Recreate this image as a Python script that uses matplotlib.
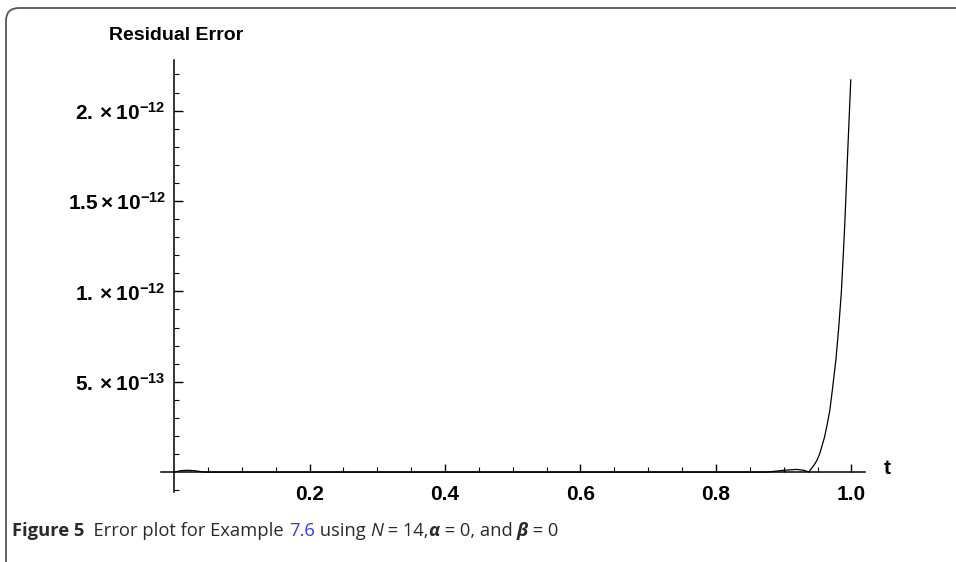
import matplotlib

matplotlib.use("Agg")
import matplotlib.pyplot as plt  # noqa: E402
from matplotlib.patches import FancyBboxPatch  # noqa: E402
from matplotlib.ticker import FixedLocator  # noqa: E402

# values (residual in units of 1e-12)
t_vals = [0.0, 0.01, 0.02, 0.03, 0.045, 0.1, 0.3, 0.5, 0.7, 0.85, 0.875,
          0.9, 0.919, 0.93, 0.937, 0.945, 0.949, 0.953, 0.96, 0.964, 0.968,
          0.972, 0.977, 0.981, 0.985, 0.9875, 0.99, 0.992, 0.994, 0.9965,
          0.999]
err_vals = [0.0, 0.008, 0.01, 0.008, 0.0, 0.0, 0.0, 0.0, 0.0, 0.0, 0.0,
            0.01, 0.015, 0.01, 0.0, 0.04, 0.065, 0.10, 0.19, 0.26, 0.34,
            0.46, 0.62, 0.79, 0.99, 1.17, 1.36, 1.54, 1.73, 1.95,
            2.17]
scale = 1e-12

x_major = [0.2, 0.4, 0.6, 0.8, 1.0]
x_labels = ["0.2", "0.4", "0.6", "0.8", "1.0"]
x_minor = [0.05, 0.1, 0.15, 0.25, 0.3, 0.35, 0.45, 0.5, 0.55, 0.65, 0.7,
           0.75, 0.85, 0.9, 0.95]
y_major = [5e-13, 1e-12, 1.5e-12, 2e-12]
y_labels = [r"$5.\times10^{-13}$", r"$1.\times10^{-12}$",
            r"$1.5\times10^{-12}$", r"$2.\times10^{-12}$"]
y_minor = [-1e-13] + [k * 1e-13 for k in range(1, 23) if k % 5 != 0]

caption_parts = [
    ("Figure 5", {"weight": "bold"}),
    ("  Error plot for Example ", {}),
    ("7.6", {"color": "#3b3bdb"}),
    (" using ", {}),
    ("N", {"style": "italic"}),
    (" = 14,", {}),
    ("α", {"style": "italic", "weight": "bold"}),
    (" = 0, and ", {}),
    ("β", {"style": "italic", "weight": "bold"}),
    (" = 0", {}),
]

plt.rcParams["mathtext.fontset"] = "custom"
plt.rcParams["mathtext.rm"] = "Liberation Sans:bold"
plt.rcParams["mathtext.it"] = "Liberation Sans:bold"
plt.rcParams["mathtext.bf"] = "Liberation Sans:bold"

W, H = 956, 562
fig = plt.figure(figsize=(W / 100, H / 100), dpi=100)

x0, x1 = -0.02, 1.02
y0, y1 = -0.11e-12, 2.28e-12
ax = fig.add_axes([160.5 / W, 1 - 492 / H, (865 - 160.5) / W, (492 - 60) / H])
ax.plot(t_vals, [v * scale for v in err_vals], color="black", lw=0.9)
ax.set_xlim(x0, x1)
ax.set_ylim(y0, y1)

for s in ("top", "right"):
    ax.spines[s].set_visible(False)
ax.spines["left"].set_position(("data", 0))
ax.spines["bottom"].set_position(("data", 0))
for s in ("left", "bottom"):
    ax.spines[s].set_linewidth(1.1)
ax.patch.set_alpha(0)

ax.xaxis.set_major_locator(FixedLocator(x_major))
ax.xaxis.set_minor_locator(FixedLocator(x_minor))
ax.set_xticklabels(x_labels, fontfamily="Liberation Sans", fontweight="bold",
                   fontsize=15)
ax.yaxis.set_major_locator(FixedLocator(y_major))
ax.yaxis.set_minor_locator(FixedLocator(y_minor))
ax.set_yticklabels(y_labels, fontsize=15)
ax.tick_params(axis="x", which="major", direction="in", length=6, width=1,
               pad=9)
ax.tick_params(axis="x", which="minor", direction="in", length=3.5, width=0.8)
ax.tick_params(axis="y", which="major", direction="in", length=6.5, width=1,
               pad=6)
ax.tick_params(axis="y", which="minor", direction="in", length=3.5, width=0.8)

fig.text(176 / W, 1 - 35 / H, "Residual Error", ha="center", va="center",
         fontfamily="Liberation Sans", fontweight="bold", fontsize=14)
fig.text(887 / W, 1 - 469 / H, "t", ha="center", va="center",
         fontfamily="Liberation Sans", fontweight="bold", fontsize=15)

# frame with rounded top-left corner
frame = FancyBboxPatch((0.06, -1.0), 20, 5.54 + 1.0,
                       boxstyle="round,pad=0,rounding_size=0.13",
                       transform=fig.dpi_scale_trans, fill=False,
                       edgecolor="#555555", lw=1.3)
fig.add_artist(frame)

# caption, piece by piece
renderer = fig.canvas.get_renderer()
x_px = 12
for text, style in caption_parts:
    txt = fig.text(x_px / W, 1 - 531 / H, text, ha="left", va="center",
                   fontfamily="Open Sans", fontsize=13.2, color="#2a2a2a")
    txt.set(**style)
    x_px = txt.get_window_extent(renderer).x1

fig.savefig("out.png", dpi=100)
